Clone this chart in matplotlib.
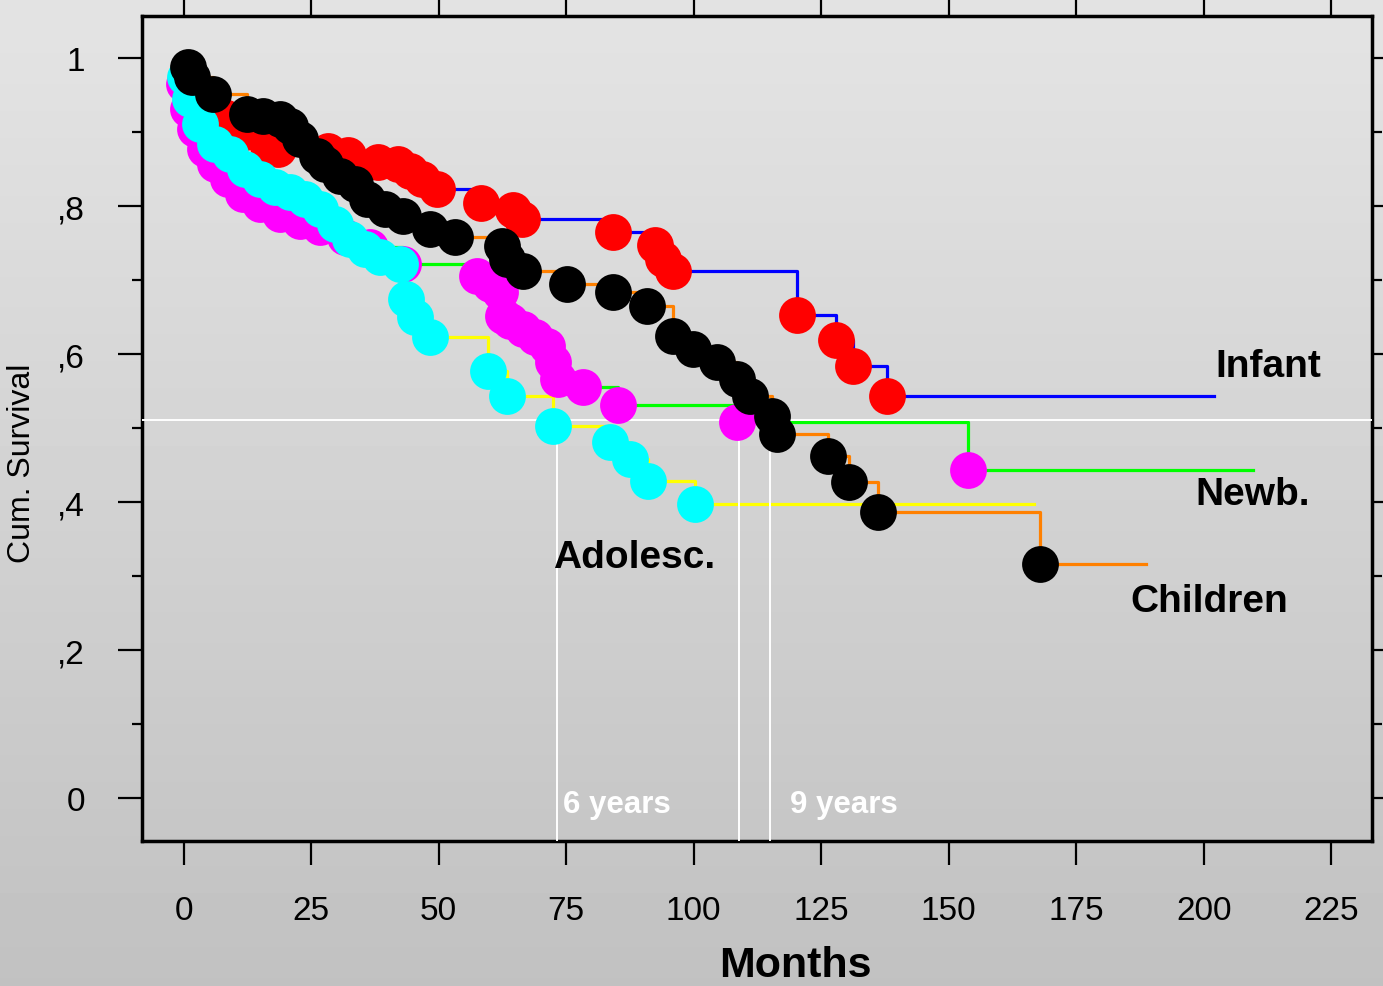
import numpy as np
import matplotlib
matplotlib.use("Agg")
from matplotlib import pyplot as plt

plt.rcParams['font.family'] = ['Liberation Sans', 'DejaVu Sans']

# Kaplan-Meier event points (months, cum. survival)
infant_t = [1.5, 4, 8, 12, 16.6, 18.5, 28.3, 32.3, 38.1, 42.1, 44.4, 46.8, 49.7, 58.3,
            64.6, 66.4, 84.2, 92.4, 94.0, 96.0, 120.3, 128.0, 131.3, 137.9]
infant_s = [0.975, 0.95, 0.92, 0.90, 0.881, 0.877, 0.874, 0.869, 0.859, 0.857, 0.847, 0.836,
            0.823, 0.804, 0.795, 0.782, 0.765, 0.747, 0.728, 0.712, 0.653, 0.619, 0.584, 0.543]
infant_end = 202.0

newb_t = [0.1, 0.9, 2.3, 4.2, 6.2, 8.7, 11.7, 15.0, 18.9, 22.8, 26.8, 31.7, 36.6, 43.0,
          57.5, 60.1, 62.1, 62.6, 64.0, 66.6, 68.9, 71.3, 72.5, 73.4, 78.3, 85.2, 108.5, 153.8]
newb_s = [0.965, 0.931, 0.904, 0.877, 0.857, 0.836, 0.816, 0.803, 0.789, 0.780, 0.772, 0.758,
          0.745, 0.722, 0.705, 0.695, 0.684, 0.651, 0.645, 0.634, 0.623, 0.611, 0.589, 0.566,
          0.555, 0.531, 0.508, 0.443]
newb_end = 209.7

children_t = [0.9, 1.7, 5.8, 12.5, 15.6, 18.9, 20.9, 22.8, 26.2, 27.7, 30.7, 33.6, 36.0, 39.5,
              43.0, 48.3, 53.2, 62.5, 63.4, 66.6, 75.2, 84.2, 90.9, 96.0, 99.9, 104.6, 108.5,
              111.1, 115.4, 116.4, 126.4, 130.5, 136.2, 167.9]
children_s = [0.988, 0.974, 0.951, 0.924, 0.922, 0.918, 0.908, 0.891, 0.868, 0.857, 0.841, 0.830,
              0.809, 0.796, 0.786, 0.769, 0.758, 0.746, 0.728, 0.712, 0.695, 0.684, 0.665, 0.624,
              0.607, 0.589, 0.566, 0.543, 0.516, 0.492, 0.462, 0.427, 0.386, 0.316]
children_end = 188.7

adol_t = [0.2, 1.3, 3.2, 6.2, 9.1, 12.1, 15.0, 17.9, 20.9, 23.8, 26.8, 29.7, 32.6, 35.6, 38.5,
          42.5, 43.6, 45.4, 48.3, 59.7, 63.4, 72.4, 83.6, 87.5, 91.1, 100.3]
adol_s = [0.974, 0.945, 0.911, 0.884, 0.870, 0.850, 0.836, 0.826, 0.819, 0.809, 0.796, 0.776,
          0.755, 0.742, 0.731, 0.722, 0.674, 0.650, 0.623, 0.577, 0.543, 0.503, 0.481, 0.458,
          0.428, 0.397]
adol_end = 166.8

median_level = 0.511
marker_times = [73.2, 108.9, 115.0]

xticks = [0, 25, 50, 75, 100, 125, 150, 175, 200, 225]
yticks = [0, 0.2, 0.4, 0.6, 0.8, 1.0]
ytick_labels = ['0', ',2', ',4', ',6', ',8', '1']

groups = [
    # times, surv, end, line colour, marker colour
    (newb_t, newb_s, newb_end, '#00ff00', '#ff00ff'),
    (infant_t, infant_s, infant_end, '#0000ff', '#ff0000'),
    (adol_t, adol_s, adol_end, '#ffff00', '#00ffff'),
    (children_t, children_s, children_end, '#ff8000', '#000000'),
]

fig = plt.figure(figsize=(13.83, 9.87), dpi=100)

# grey gradient behind everything
bg = fig.add_axes([0, 0, 1, 1], zorder=-10)
grad = np.linspace(228, 193, 256).reshape(-1, 1) / 255
bg.imshow(grad, cmap='gray', vmin=0, vmax=1, aspect='auto', extent=[0, 1, 0, 1])
bg.axis('off')

ax = fig.add_axes([0.1027, 0.1469, 0.8894, 0.8359])
ax.set_facecolor('none')

# step lines first
for t, s, end, lc, mc in groups:
    xs = [0] + list(t) + [end]
    ys = [1.0] + list(s) + [s[-1]]
    ax.plot(xs, ys, drawstyle='steps-post', color=lc, lw=2.3, zorder=2)

# reference lines
ax.axhline(median_level, color='white', lw=1.4, zorder=3)
ax.vlines(marker_times, -0.06, median_level, color='white', lw=1.4, zorder=3)

# markers on top
for i, (t, s, end, lc, mc) in enumerate(groups):
    ax.plot(t, s, 'o', color=mc, ms=26.5, mec='none', zorder=4 + i)

ax.set_xlim(-8.14, 233.0)
ax.set_ylim(-0.058, 1.0568)

ax.set_xticks(xticks)
ax.set_xticklabels([str(v) for v in xticks])
ax.set_yticks(yticks)
ax.set_yticklabels(ytick_labels)
ax.set_yticks([0.1, 0.3, 0.5, 0.7, 0.9], minor=True)

ax.tick_params(axis='x', which='major', direction='out', length=17, width=1.6,
               labelsize=24, pad=22, top=True, bottom=True, labeltop=False)
ax.tick_params(axis='y', which='major', direction='out', length=17, width=1.6,
               labelsize=24, pad=24, left=True, right=True, labelright=False)
ax.tick_params(axis='y', which='minor', direction='out', length=7, width=1.6,
               left=True, right=True)

for sp in ax.spines.values():
    sp.set_linewidth(2.5)

# group labels
lbl = dict(fontsize=28, fontweight='bold', color='black', ha='left', va='baseline')
ax.text(202.3, 0.570, 'Infant', **lbl)
ax.text(198.3, 0.397, 'Newb.', **lbl)
ax.text(185.6, 0.253, 'Children', **lbl)
ax.text(72.4, 0.312, 'Adolesc.', zorder=10, **lbl)

yrs = dict(fontsize=22.5, fontweight='bold', color='white', ha='left', va='baseline')
ax.text(74.4, -0.019, '6 years', **yrs)
ax.text(118.9, -0.019, '9 years', **yrs)

fig.text(0.575, 1 - 977 / 987, 'Months', fontsize=31, fontweight='bold', ha='center', va='baseline')
fig.text(0.016, 1 - 463 / 987, 'Cum. Survival', fontsize=23, rotation=90, ha='center', va='center')

fig.savefig('out.png', dpi=100)
